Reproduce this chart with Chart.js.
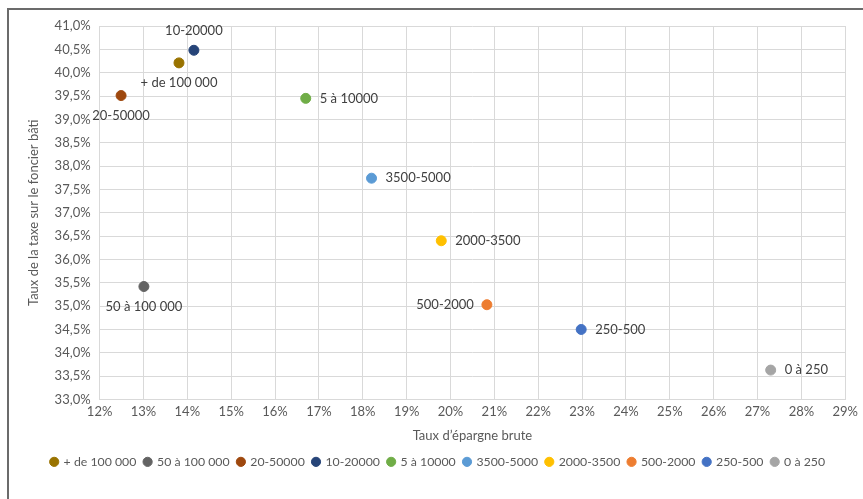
<!DOCTYPE html>
<html lang="fr">
<head>
    <meta charset="UTF-8">
    <title>Taux de taxe foncière vs taux d'épargne brute</title>
    <script src="https://cdn.jsdelivr.net/npm/chart.js"></script>
    <style>
        html, body { margin: 0; padding: 0; background: #fff; }
        #wrap { position: relative; width: 863px; height: 499px; }
        #frame {
            position: absolute; left: 7px; top: 8px; right: 0; bottom: 0;
            border-left: 2px solid #6b6b6b; border-top: 2px solid #6b6b6b;
            pointer-events: none;
        }
    </style>
</head>
<body>
<div id="wrap">
    <canvas id="chart" width="863" height="499"></canvas>
    <div id="frame"></div>
</div>

<script>
    // strates de population
    const strates = ['+ de 100 000', '50 à 100 000', '20-50000', '10-20000', '5 à 10000',
                     '3500-5000', '2000-3500', '500-2000', '250-500', '0 à 250'];
    // taux d'épargne brute (%)
    const epargne = [13.81, 13.01, 12.49, 14.15, 16.70, 18.20, 19.79, 20.83, 22.98, 27.30];
    // taux de la taxe sur le foncier bâti (%)
    const taxeFB = [40.21, 35.42, 39.51, 40.48, 39.45, 37.74, 36.40, 35.03, 34.50, 33.63];

    const couleurs = ['#997300', '#636363', '#9e480e', '#264478', '#70ad47',
                      '#5b9bd5', '#ffc000', '#ed7d31', '#4472c4', '#a5a5a5'];
    // où placer l'étiquette par rapport au point
    const placement = ['below', 'below', 'below', 'above', 'right',
                       'right', 'right', 'left', 'right', 'right'];

    const police = 'Lato, "Liberation Sans", sans-serif';
    const gris = '#595959';

    const datasets = strates.map((nom, i) => ({
        label: nom,
        data: [{ x: epargne[i], y: taxeFB[i] }],
        backgroundColor: couleurs[i],
        borderColor: couleurs[i],
        pointRadius: 5,
        pointHoverRadius: 5
    }));

    // étiquettes de données à côté des points
    const etiquettes = {
        id: 'etiquettes',
        afterDatasetsDraw(chart) {
            const ctx = chart.ctx;
            ctx.save();
            ctx.font = '13px ' + police;
            ctx.fillStyle = '#404040';
            chart.data.datasets.forEach((ds, i) => {
                const pt = chart.getDatasetMeta(i).data[0];
                if (!pt) return;
                let x = pt.x, y = pt.y;
                ctx.textBaseline = 'middle';
                switch (placement[i]) {
                    case 'above': ctx.textAlign = 'center'; y -= 19; break;
                    case 'below': ctx.textAlign = 'center'; y += 20; break;
                    case 'left': ctx.textAlign = 'right'; x -= 13; break;
                    default: ctx.textAlign = 'left'; x += 14;
                }
                ctx.fillText(ds.label, x, y);
            });
            ctx.restore();
        }
    };

    new Chart(document.getElementById('chart'), {
        type: 'scatter',
        data: { datasets: datasets },
        plugins: [etiquettes],
        options: {
            responsive: false,
            animation: false,
            layout: { padding: { left: 22, top: 26, right: 9, bottom: 21 } },
            plugins: {
                tooltip: { enabled: false },
                legend: {
                    position: 'bottom',
                    labels: {
                        usePointStyle: true,
                        pointStyle: 'circle',
                        boxWidth: 6.5,
                        boxHeight: 6.5,
                        padding: 8,
                        color: gris,
                        font: { family: police, size: 12.3 }
                    }
                }
            },
            scales: {
                x: {
                    type: 'linear',
                    min: 12,
                    max: 29,
                    ticks: {
                        stepSize: 1,
                        color: gris,
                        padding: 5,
                        font: { family: police, size: 13 },
                        callback: v => v + '%'
                    },
                    grid: { color: '#d9d9d9', drawTicks: false },
                    border: { color: '#d9d9d9' },
                    title: {
                        display: true,
                        text: 'Taux d’épargne brute',
                        color: gris,
                        padding: { top: 3, bottom: 4 },
                        font: { family: police, size: 13 }
                    }
                },
                y: {
                    min: 33,
                    max: 41,
                    ticks: {
                        stepSize: 0.5,
                        color: gris,
                        font: { family: police, size: 13 },
                        padding: 9,
                        callback: v => v.toFixed(1).replace('.', ',') + '%'
                    },
                    grid: { color: '#d9d9d9', drawTicks: false },
                    border: { color: '#d9d9d9' },
                    title: {
                        display: true,
                        text: 'Taux de la taxe sur le foncier bâti',
                        color: gris,
                        font: { family: police, size: 13 }
                    }
                }
            }
        }
    });
</script>
</body>
</html>
